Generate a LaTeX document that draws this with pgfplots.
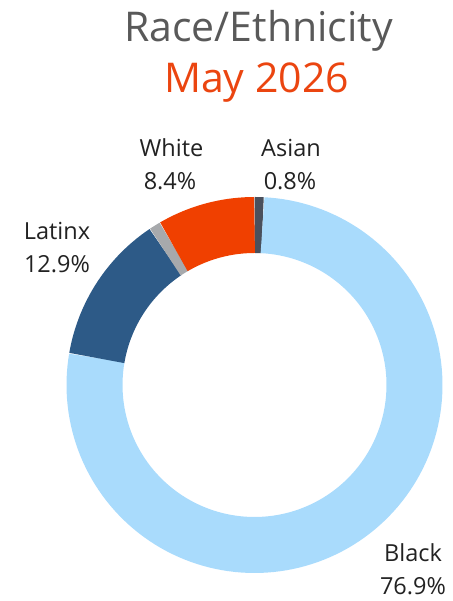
\documentclass[border=0pt]{standalone}
\usepackage{pgfplots}
\pgfplotsset{compat=1.18}
\usepackage{pgfplotstable}
\usepackage{fontspec}
\setmainfont{Open Sans}

\definecolor{cAsian}{HTML}{4A505C}
\definecolor{cBlack}{HTML}{A9DBFC}
\definecolor{cLatinx}{HTML}{2D5A87}
\definecolor{cOther}{HTML}{A7A9AC}
\definecolor{cWhite}{HTML}{F04000}
\definecolor{titlegray}{HTML}{595959}
\definecolor{titleorange}{HTML}{EB4510}
\definecolor{labeltext}{HTML}{222222}

% share of each group, clockwise from 12 o'clock
\pgfplotstableread{
group value
Asian 0.8
Black 76.9
Latinx 12.9
Other 1.0
White 8.4
}\racedata

\begin{document}
\begin{tikzpicture}
\pgfplotstablegetelem{0}{value}\of\racedata\edef\vAsian{\pgfplotsretval}
\pgfplotstablegetelem{1}{value}\of\racedata\edef\vBlack{\pgfplotsretval}
\pgfplotstablegetelem{2}{value}\of\racedata\edef\vLatinx{\pgfplotsretval}
\pgfplotstablegetelem{3}{value}\of\racedata\edef\vOther{\pgfplotsretval}
\pgfplotstablegetelem{4}{value}\of\racedata\edef\vWhite{\pgfplotsretval}
\pgfmathsetmacro\aA{3.6*\vAsian}
\pgfmathsetmacro\aB{\aA+3.6*\vBlack}
\pgfmathsetmacro\aC{\aB+3.6*\vLatinx}
\pgfmathsetmacro\aD{\aC+3.6*\vOther}
\pgfmathsetmacro\aE{\aD+3.6*\vWhite}
\begin{axis}[
  width=452pt, height=601pt, scale only axis,
  xmin=0, xmax=452, ymin=0, ymax=601,
  axis line style={draw=none}, xtick=\empty, ytick=\empty, clip=false,
  every axis plot/.append style={line width=56pt, line cap=butt},
]
\addplot[draw=cAsian, domain=0:\aA, samples=4] ({254.5+160*sin(x)},{216+160*cos(x)});
\addplot[draw=cBlack, domain=\aA:\aB, samples=140] ({254.5+160*sin(x)},{216+160*cos(x)});
\addplot[draw=cLatinx, domain=\aB:\aC, samples=30] ({254.5+160*sin(x)},{216+160*cos(x)});
\addplot[draw=cOther, domain=\aC:\aD, samples=4] ({254.5+160*sin(x)},{216+160*cos(x)});
\addplot[draw=cWhite, domain=\aD:\aE, samples=20] ({254.5+160*sin(x)},{216+160*cos(x)});

\tikzset{lbl/.style={anchor=base, inner sep=0pt, text=labeltext, font=\fontsize{23.5}{28}\selectfont}}
\node[anchor=base, inner sep=0pt, text=titlegray, font=\fontsize{41}{48}\selectfont] at (axis cs:258.5,559) {Race/Ethnicity};
\node[anchor=base, inner sep=0pt, text=titleorange, font=\fontsize{41}{48}\selectfont] at (axis cs:256.5,508) {May 2026};
\node[lbl] at (axis cs:171.5,444) {White};
\node[lbl] at (axis cs:170,411) {8.4\%};
\node[lbl] at (axis cs:291,444) {Asian};
\node[lbl] at (axis cs:290,411) {0.8\%};
\node[lbl] at (axis cs:57,361) {Latinx};
\node[lbl] at (axis cs:57,328) {12.9\%};
\node[lbl] at (axis cs:413,39) {Black};
\node[lbl] at (axis cs:413,6) {76.9\%};
\end{axis}
\end{tikzpicture}
\end{document}
